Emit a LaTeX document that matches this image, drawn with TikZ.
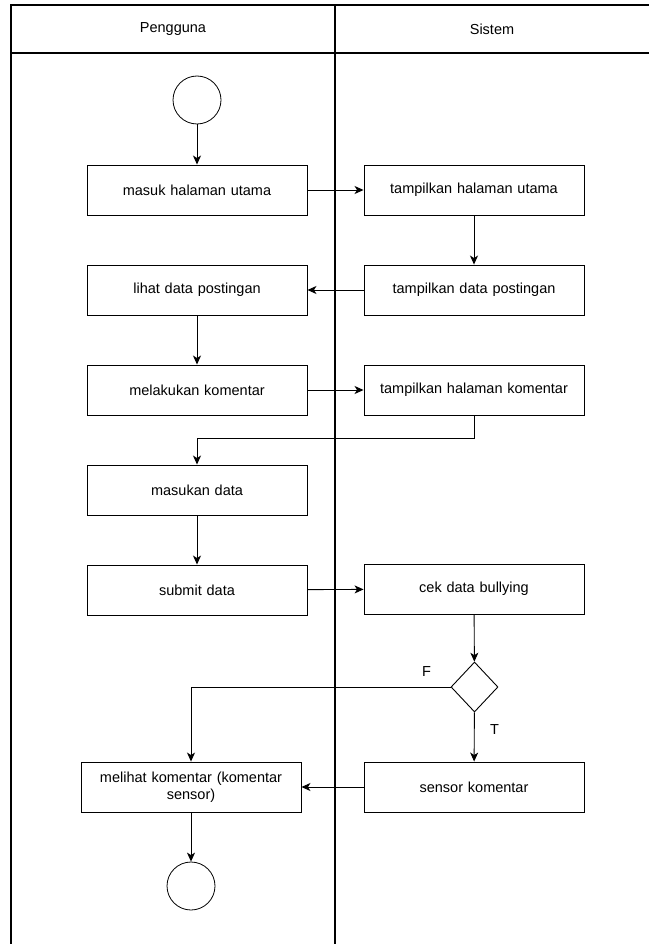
\documentclass[tikz,border=0pt]{standalone}
\usepackage{fontspec}
\setmainfont{Liberation Sans}
\usetikzlibrary{shapes.geometric, arrows.meta, positioning}

\begin{document}
\begin{tikzpicture}[x=1pt, y=-1pt,
  lane/.style={line width=1.3pt},
  actbox/.style={draw, line width=0.9pt, minimum width=220pt, minimum height=50pt, text width=212pt, align=center, inner sep=2pt, font=\fontsize{14.5}{17}\selectfont},
  startend/.style={draw, circle, line width=0.8pt, minimum size=48pt, inner sep=0pt},
  decision/.style={draw, diamond, line width=0.9pt, minimum width=47pt, minimum height=50pt, inner sep=0pt},
  flow/.style={line width=0.9pt, -{Stealth[length=9pt, width=8pt, inset=2.5pt]}},
  lbl/.style={font=\fontsize{14.5}{17}\selectfont}
]
  \useasboundingbox (0,0) rectangle (649,944);
  % swimlanes
  \draw[lane] (11,944) -- (11,5) -- (649,5);
  \draw[lane] (11,53) -- (649,53);
  \draw[lane] (335,5) -- (335,944);
  \node[lbl] (pengguna) at (173,29) {Pengguna};
  \node[lbl] (sistem) at (492,29) {Sistem};

  % nodes
  \node[startend] (mulai) at (197,100) {};
  \node[actbox] (masuk) at (197,190) {masuk halaman utama};
  \node[actbox] (tutama) at (474,190) {tampilkan halaman utama};
  \node[actbox] (tposting) at (474,290) {tampilkan data postingan};
  \node[actbox] (lihat) at (197,290) {lihat data postingan};
  \node[actbox] (komen) at (197,390) {melakukan komentar};
  \node[actbox] (tkomen) at (474,390) {tampilkan halaman komentar};
  \node[actbox] (masukan) at (197,490) {masukan data};
  \node[actbox] (submit) at (197,590) {submit data};
  \node[actbox] (cek) at (474,589) {cek data bullying};
  \node[decision] (cabang) at (474.5,687) {};
  \node[actbox] (sensor) at (474,787) {sensor komentar};
  \node[actbox] (melihat) at (191,787) {melihat komentar (komentar\\ sensor)};
  \node[startend] (selesai) at (191,886) {};
  \coordinate (belok) at (474,438);

  % connectors
  \draw[flow] (mulai) -- (masuk);
  \draw[flow] (masuk) -- (tutama);
  \draw[flow] (tutama) -- (tposting);
  \draw[flow] (tposting) -- (lihat);
  \draw[flow] (lihat) -- (komen);
  \draw[flow] (komen) -- (tkomen);
  \draw[flow] (tkomen.south) -- (belok) -| (masukan.north);
  \draw[flow] (masukan) -- (submit);
  \draw[flow] (submit) -- (cek);
  \draw[flow] (cek) -- (cabang);
  \draw[flow] (cabang.west) -| node[lbl, pos=0.046, above=7pt] (labelf) {F} (melihat.north);
  \draw[flow] (cabang) -- node[lbl, right=12pt, pos=0.35] (labelt) {T} (sensor);
  \draw[flow] (sensor) -- (melihat);
  \draw[flow] (melihat) -- (selesai);
\end{tikzpicture}
\end{document}
